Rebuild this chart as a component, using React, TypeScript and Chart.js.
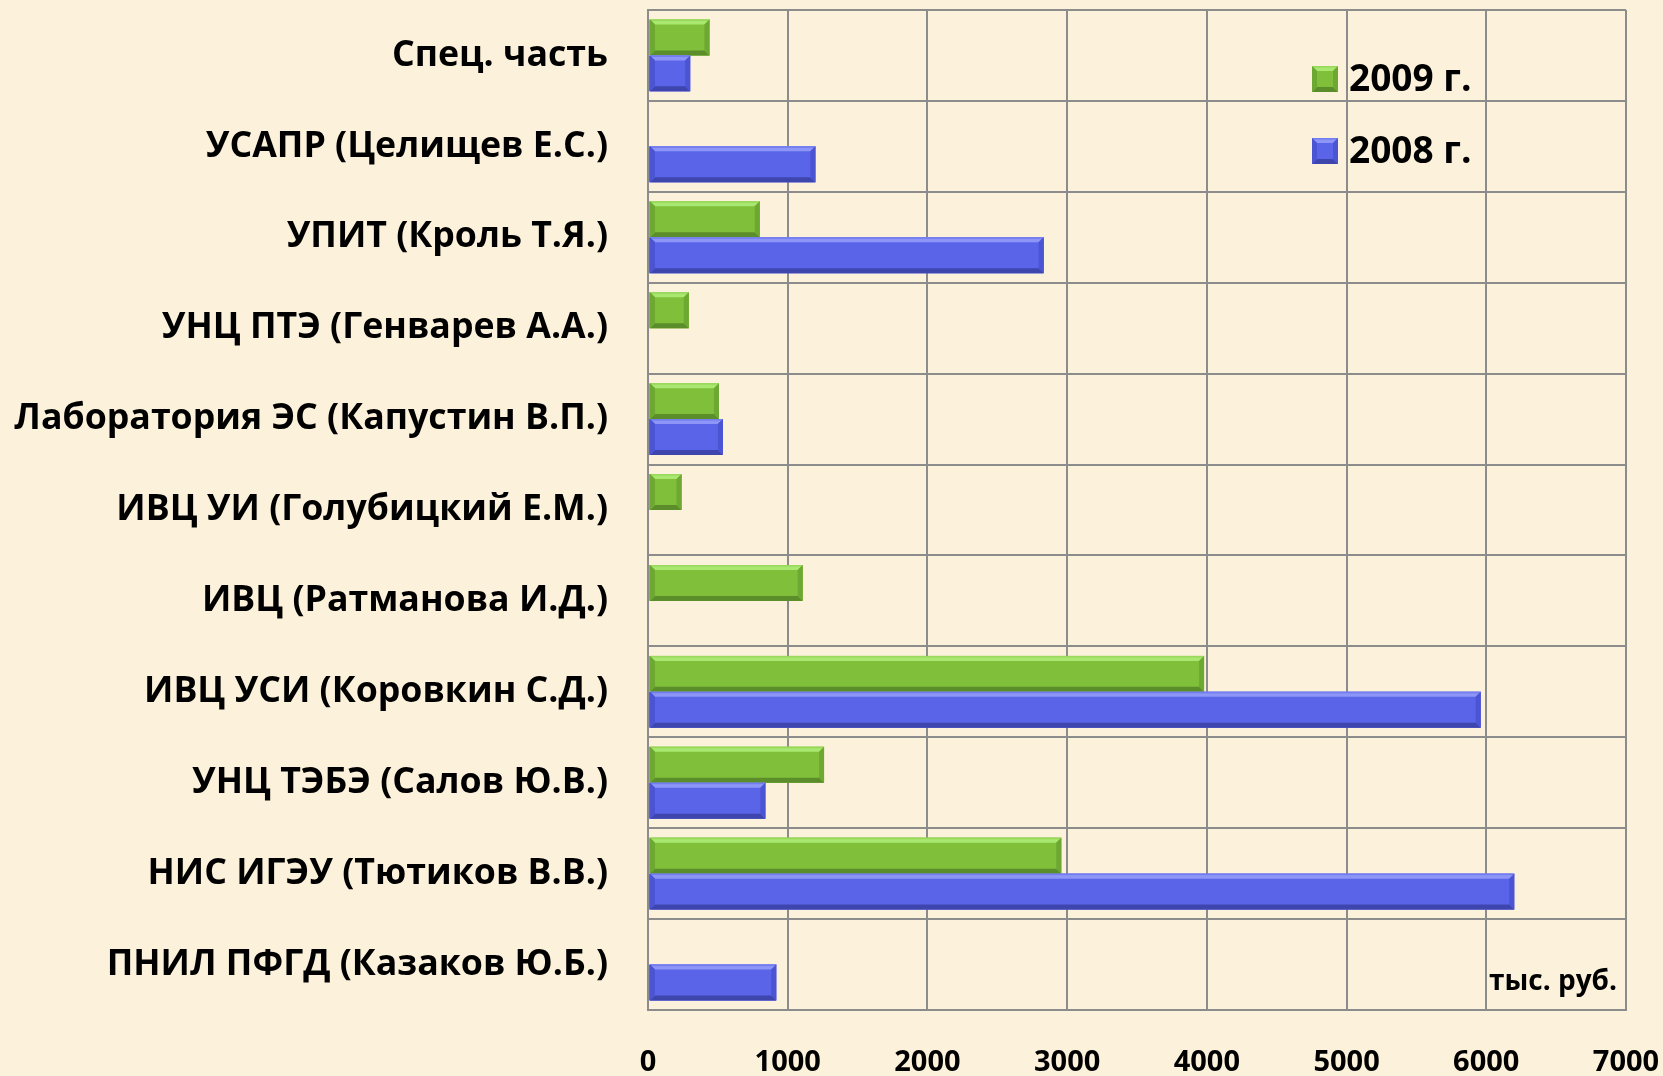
import React, { useEffect, useRef } from "react";
import { Chart, registerables } from "chart.js";

Chart.register(...registerables);

const categories = [
  "Спец. часть",
  "УСАПР (Целищев Е.С.)",
  "УПИТ (Кроль Т.Я.)",
  "УНЦ ПТЭ (Генварев А.А.)",
  "Лаборатория ЭС (Капустин В.П.)",
  "ИВЦ УИ (Голубицкий Е.М.)",
  "ИВЦ (Ратманова И.Д.)",
  "ИВЦ УСИ (Коровкин С.Д.)",
  "УНЦ ТЭБЭ (Салов Ю.В.)",
  "НИС ИГЭУ (Тютиков В.В.)",
  "ПНИЛ ПФГД (Казаков Ю.Б.)",
];

const values2009 = [440, null, 800, 292, 508, 240, 1107, 3980, 1260, 2958, null];
const values2008 = [302, 1198, 2832, null, 536, null, null, 5960, 840, 6200, 918];

const seriesLabels = ["2009 г.", "2008 г."];
const xTicks = [0, 1000, 2000, 3000, 4000, 5000, 6000, 7000];
const unitLabel = "тыс. руб.";

const FONT = "'Open Sans', 'Noto Sans', sans-serif";
const BG = "#FCF1DA";
const GRID = "#8c8c8c";

const palette = [
  { body: "#80BF3A", light: "#A9E870", dark: "#5B8E2A", side: "#6DA833", edge: "#9AD85C" },
  { body: "#5A64E8", light: "#8D96F6", dark: "#3E46AE", side: "#4B54D2", edge: "#737CF0" },
];

function bevelRect(ctx: CanvasRenderingContext2D, L: number, T: number, R: number, B: number, c: any) {
  const b = Math.min(5, (R - L) / 2, (B - T) / 2);
  ctx.fillStyle = c.body;
  ctx.fillRect(L, T, R - L, B - T);
  ctx.fillStyle = c.light;
  ctx.beginPath();
  ctx.moveTo(L, T); ctx.lineTo(R, T); ctx.lineTo(R - b, T + b); ctx.lineTo(L + b, T + b); ctx.closePath(); ctx.fill();
  ctx.fillStyle = c.edge;
  ctx.fillRect(L, T, R - L, 1.5);
  ctx.fillStyle = c.dark;
  ctx.beginPath();
  ctx.moveTo(L, B); ctx.lineTo(R, B); ctx.lineTo(R - b, B - b); ctx.lineTo(L + b, B - b); ctx.closePath(); ctx.fill();
  ctx.fillStyle = c.side;
  ctx.beginPath();
  ctx.moveTo(R, T); ctx.lineTo(R, B); ctx.lineTo(R - b, B - b); ctx.lineTo(R - b, T + b); ctx.closePath(); ctx.fill();
  ctx.beginPath();
  ctx.moveTo(L, T); ctx.lineTo(L, B); ctx.lineTo(L + b, B - b); ctx.lineTo(L + b, T + b); ctx.closePath(); ctx.fill();
}

const decorPlugin = {
  id: "decor",
  beforeDraw(chart: any) {
    const ctx = chart.ctx;
    ctx.save();
    ctx.fillStyle = BG;
    ctx.fillRect(0, 0, chart.width, chart.height);
    ctx.restore();
  },
  afterDatasetsDraw(chart: any) {
    const ctx = chart.ctx;
    ctx.save();
    chart.data.datasets.forEach((ds: any, i: number) => {
      const meta = chart.getDatasetMeta(i);
      meta.data.forEach((el: any, j: number) => {
        if (ds.data[j] == null) return;
        const L = Math.min(el.base, el.x) + 1;
        const R = Math.max(el.base, el.x);
        const T = el.y - el.height / 2;
        const B = el.y + el.height / 2;
        bevelRect(ctx, L, T, R, B, palette[i]);
      });
    });
    ctx.restore();
  },
  afterDraw(chart: any) {
    const ctx = chart.ctx;
    const area = chart.chartArea;
    ctx.save();
    chart.data.datasets.forEach((ds: any, i: number) => {
      const sx = area.right - 314;
      const sy = area.top + 56 + i * 72;
      bevelRect(ctx, sx, sy, sx + 26, sy + 26, palette[i]);
      ctx.fillStyle = "#000";
      ctx.font = `bold 37px ${FONT}`;
      ctx.textAlign = "left";
      ctx.textBaseline = "middle";
      ctx.fillText(ds.label, sx + 37, sy + 14);
    });
    ctx.font = `bold 28px ${FONT}`;
    ctx.textAlign = "right";
    ctx.textBaseline = "alphabetic";
    ctx.fillStyle = "#000";
    ctx.fillText(unitLabel, area.right - 9, area.bottom - 20);
    ctx.restore();
  },
};

function zeroPad(scale: any) {
  scale.paddingTop = 0;
  scale.paddingBottom = 0;
  scale.paddingLeft = 0;
  scale.paddingRight = 0;
}

export default function App() {
  const ref = useRef<HTMLCanvasElement | null>(null);
  useEffect(() => {
    if (!ref.current) return;
    const chart = new Chart(ref.current, {
      type: "bar",
      data: {
        labels: categories,
        datasets: [
          { label: seriesLabels[0], data: values2009 as any, backgroundColor: palette[0].body, borderWidth: 0 },
          { label: seriesLabels[1], data: values2008 as any, backgroundColor: palette[1].body, borderWidth: 0 },
        ],
      },
      options: {
        indexAxis: "y",
        responsive: false,
        animation: false,
        devicePixelRatio: 1,
        layout: { padding: { top: 10, right: 37, left: 0, bottom: 0 } },
        datasets: { bar: { categoryPercentage: 0.79, barPercentage: 1.0 } },
        plugins: { legend: { display: false }, tooltip: { enabled: false } },
        scales: {
          x: {
            min: 0,
            max: 7000,
            afterBuildTicks: (scale: any) => {
              scale.ticks = xTicks.map((v) => ({ value: v }));
            },
            afterFit: (scale: any) => {
              scale.height = 66;
              zeroPad(scale);
            },
            grid: { color: GRID, lineWidth: 2, drawTicks: false },
            border: { display: true, color: GRID, width: 2 },
            ticks: {
              padding: 35,
              color: "#000",
              font: { family: FONT, size: 29, weight: "bold" },
              maxRotation: 0,
              autoSkip: false,
              callback: (v: any) => String(v),
            },
          },
          y: {
            afterFit: (scale: any) => {
              scale.width = 648;
              zeroPad(scale);
            },
            grid: { color: GRID, lineWidth: 2, drawTicks: false, offset: true },
            border: { display: true, color: GRID, width: 2 },
            ticks: {
              padding: 40,
              color: "#000",
              font: { family: FONT, size: 35.7, weight: "bold" },
              autoSkip: false,
            },
          },
        },
      },
      plugins: [decorPlugin],
    });
    return () => chart.destroy();
  }, []);
  return (
    <div style={{ position: "fixed", left: 0, top: 0, width: 1663, height: 1076, background: BG }}>
      <canvas ref={ref} width={1663} height={1076} style={{ display: "block" }} />
    </div>
  );
}
